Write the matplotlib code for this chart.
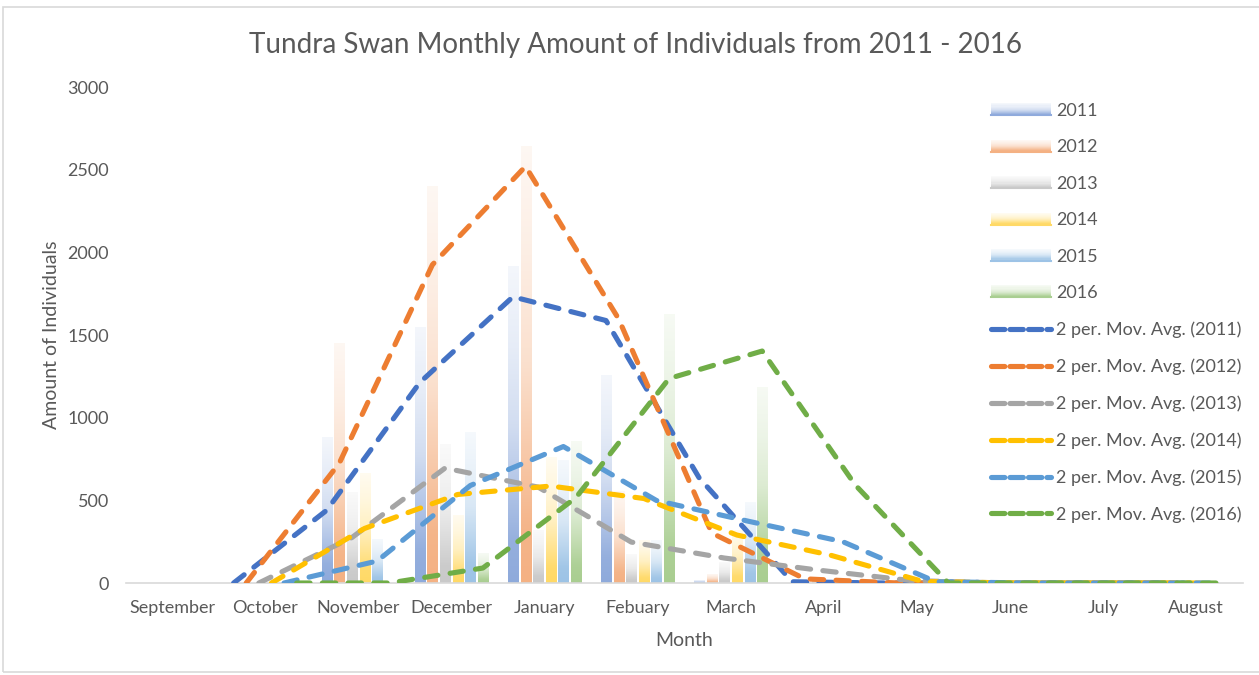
import numpy as np
import pandas as pd
import matplotlib
matplotlib.use("Agg")
import matplotlib.pyplot as plt
from matplotlib.patches import Rectangle
from matplotlib.lines import Line2D
from matplotlib.legend_handler import HandlerBase
from matplotlib.colors import to_rgb

plt.rcParams["font.family"] = ["Lato", "DejaVu Sans"]

months = ["September", "October", "November", "December", "January", "Febuary",
          "March", "April", "May", "June", "July", "August"]
years = ["2011", "2012", "2013", "2014", "2015", "2016"]

# monthly counts
y2011 = [0, 0, 880, 1545, 1917, 1258, 15, 0, 0, 0, 0, 0]
y2012 = [0, 0, 1450, 2400, 2640, 555, 50, 0, 0, 0, 0, 0]
y2013 = [0, 0, 550, 840, 320, 175, 127, 30, 0, 0, 0, 0]
y2014 = [0, 0, 660, 411, 762, 260, 320, 18, 0, 0, 0, 0]
y2015 = [0, 0, 266, 913, 738, 260, 484, 16, 0, 0, 0, 0]
y2016 = [0, 0, 0, 181, 853, 1621, 1185, 0, 0, 0, 0, 0]
counts = [y2011, y2012, y2013, y2014, y2015, y2016]

colors = ["#4472C4", "#ED7D31", "#A5A5A5", "#FFC000", "#5B9BD5", "#70AD47"]
text_col = "#595959"


def fade(color, t):
    # excel style gradient: light tint at the bottom, almost white at the top
    base = np.array(to_rgb(color))
    light = base * 0.6 + 0.4
    k = np.interp(t, [0, 0.12, 0.3, 0.5, 0.75, 1.0], [1.0, 0.95, 0.68, 0.4, 0.22, 0.1])
    return 1 - (1 - light) * np.asarray(k)[..., None]


class GradHandler(HandlerBase):
    def create_artists(self, legend, orig, xd, yd, w, h, fs, trans):
        n = 12
        rgb = fade(orig.get_facecolor(), np.linspace(0, 1, n))
        arts = []
        for j in range(n):
            arts.append(Rectangle((-xd, -yd + j * h / n), w, h / n, fc=rgb[j],
                                  ec="none", transform=trans))
        arts.append(Line2D([-xd, -xd + w], [-yd + 0.5, -yd + 0.5], color=rgb[0],
                           lw=1.5, transform=trans))
        return arts


W, H = 1259, 675
fig = plt.figure(figsize=(W / 100, H / 100), dpi=100)
ax = fig.add_axes([125.5 / W, 92 / H, 1117.2 / W, 496 / H])

x = np.arange(len(months))
step, width = 0.1355, 0.108
t = np.linspace(0, 1, 64)

for k, (vals, c) in enumerate(zip(counts, colors)):
    bars = ax.bar(x + (k - 2.5) * step, vals, width, color="none", edgecolor="none")
    img = fade(c, t)[:, None, :]
    for b in bars:
        if b.get_height() <= 0:
            continue
        ax.imshow(img, extent=(b.get_x(), b.get_x() + b.get_width(), 0, b.get_height()),
                  origin="lower", aspect="auto", interpolation="bilinear", zorder=1)

# 2 period moving average, drawn at each series' bar position like excel does
for k, (vals, c) in enumerate(zip(counts, colors)):
    ma = pd.Series(vals, dtype=float).rolling(2).mean()
    ax.plot(x[1:] + (k - 2.5) * step, ma[1:], color=c, lw=3.7,
            ls=(0, (2.6, 2.4)), dash_capstyle="round", zorder=3)

ax.set_xlim(-0.5, 11.5)
ax.set_ylim(0, 3000)
ax.set_yticks(np.arange(0, 3001, 500))
ax.set_xticks(x)
ax.set_xticklabels(months)
ax.tick_params(length=0, labelsize=13, labelcolor=text_col)
ax.tick_params(axis="y", pad=12)
ax.tick_params(axis="x", pad=12)
for s in ["top", "right", "left"]:
    ax.spines[s].set_visible(False)
ax.spines["bottom"].set_color("#d9d9d9")
ax.spines["bottom"].set_linewidth(1.2)
ax.set_xlabel("Month", fontsize=14, color=text_col, labelpad=12)
ax.set_ylabel("Amount of Individuals", fontsize=14, color=text_col, labelpad=5)

fig.text(636 / W, 1 - 45 / H, "Tundra Swan Monthly Amount of Individuals from 2011 - 2016",
         ha="center", va="center", fontsize=20, color=text_col)

handles = [Rectangle((0, 0), 1, 1, fc=c) for c in colors]
handles += [Line2D([], [], color=c, lw=3.7, ls=(0, (2.6, 1.0)), dash_capstyle="round")
            for c in colors]
labels = years + ["2 per. Mov. Avg. (%s)" % y for y in years]
fs_px = 13 * 100 / 72
fig.legend(handles, labels, loc="upper left", bbox_to_anchor=(991 / W, 1 - 103 / H),
           frameon=False, fontsize=13, labelcolor=text_col, borderpad=0,
           borderaxespad=0, handlelength=60 / fs_px, handletextpad=5 / fs_px,
           labelspacing=1.13, handler_map={Rectangle: GradHandler()})

# chart area frame
fig.add_artist(Rectangle((3 / W, 3 / H), 1.1, 1 - 10 / H, transform=fig.transFigure,
                         fill=False, ec="#d9d9d9", lw=1.2))

fig.savefig("out.png", dpi=100)
